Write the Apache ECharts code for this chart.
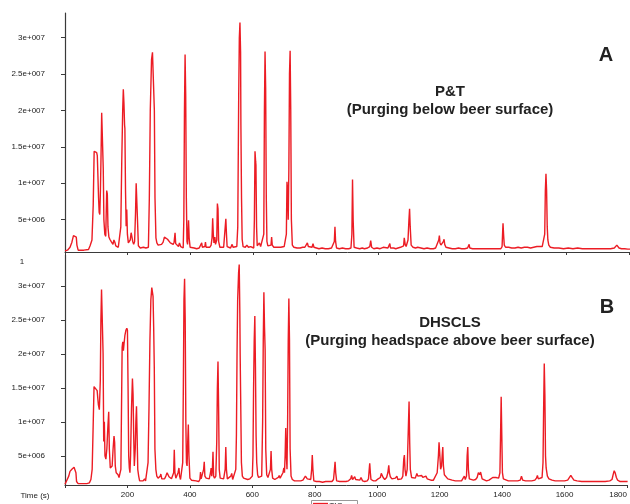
<!DOCTYPE html>
<html lang="en">
<head>
<meta charset="UTF-8">
<title>TIC chromatograms P&amp;T vs DHSCLS</title>
<style>
    html, body {margin: 0; padding: 0; background: #fff;}
    #chart {width: 630px; height: 504px;}
</style>
</head>
<body>
<div id="chart"></div>
<script src="https://cdn.jsdelivr.net/npm/echarts@6/dist/echarts.min.js"></script>
<script>
// time (s) and TIC abundance (in units of 1e6)
const traceA = [
    [0,0.7],[8,0.8],[16,1.2],[22,1.9],[27,2.8],[33,2.9],[36,2.6],[38,1.5],[42,0.8],[60,0.8],[75,0.9],[80,1.4],[86,2.2],
    [90,7],[93,14.4],[98,14.5],[101,14.2],[103,13.8],[105,11],[107,8],[109,6],[111,5.7],[113,9],[115,14],[117,19.7],[120,19.5],
    [122,12],[124,5],[127,3],[130,2.7],[133,9.0],[135,8.5],[137,4],[140,2.6],[143,2.3],[147,2.0],[150,1.8],[153,1.6],[156,2.2],
    [159,1.9],[162,1.4],[166,1.3],[170,1.2],[175,1.3],[178,4],[181,13],[184,20],[186,22.9],[188,21],[190,18],[191,17.5],[193,9],
    [195,4.1],[197,6.4],[199,3],[202,1.8],[205,1.7],[208,2.2],[211,3.2],[214,3.1],[216,2.0],[219,1.6],[222,2.0],[225,6],[227,10],
    [230,9.8],[232,4],[234,1.4],[240,1.1],[250,1.2],[258,1.1],[266,1.2],[269,8],[272,20],[276,27],[279,28.0],[282,28.0],[285,20],
    [287,8],[290,2.5],[293,1.8],[297,1.5],[302,1.4],[308,1.6],[313,1.9],[317,2.6],[322,2.5],[327,2.3],[331,2.2],[336,1.8],[341,1.7],
    [345,1.6],[348,1.9],[351,3.2],[353,1.7],[356,1.7],[359,1.5],[362,1.3],[365,1.8],[367,2.0],[369,1.3],[373,1.2],[377,1.1],[379,5],
    [381,20],[383,27.7],[385,22],[387,8],[389,2],[391,1.6],[394,4.9],[396,2.5],[399,1.2],[405,1.0],[412,1.1],[420,1.0],[428,1.1],
    [433,1.2],[436,1.8],[438,1.2],[443,1.1],[446,1.3],[448,1.9],[450,1.2],[456,1.1],[462,1.2],[466,1.5],[469,2.5],[471,5.2],[473,3],
    [475,1.8],[478,2.6],[480,1.6],[484,2.2],[486,7.2],[488,6.5],[490,2],[494,1.2],[500,1.1],[506,1.2],[510,1.3],[513,5.1],[515,3],
    [517,1.3],[523,1.2],[528,1.1],[533,1.6],[536,1.2],[542,1.1],[548,1.3],[551,4],[554,22],[556,30],[558,32.1],[560,28],[561,18],
    [563,8],[565,2.3],[568,1.3],[575,1.2],[580,1.5],[585,1.2],[592,1.3],[598,1.2],[602,1.1],[604,5],[606,14.4],[608,13],[609,12.5],
    [611,4],[613,1.4],[617,1.6],[620,1.8],[624,1.3],[630,1.2],[634,3],[636,20],[638,28.1],[640,23],[642,8],[644,2],[647,1.4],
    [652,1.3],[657,1.5],[659,2.6],[661,1.5],[666,1.2],[672,1.1],[678,1.2],[684,1.3],[688,1.2],[694,1.4],[699,1.3],[703,1.2],[706,3],
    [708,10.2],[710,9],[712,5],[714,12],[716,25],[718,28.2],[720,20],[722,5],[725,1.5],[730,1.2],[740,1.1],[750,1.1],[758,1.2],
    [765,1.2],[770,1.4],[773,1.8],[776,1.3],[782,1.2],[788,1.2],[791,1.7],[794,1.2],[800,1.1],[810,1.0],[820,1.1],[830,1.0],[840,1.0],
    [850,1.1],[856,1.2],[859,2],[861,4.0],[863,2],[866,1.1],[875,1.0],[885,1.1],[895,1.0],[905,1.0],[912,1.1],[915,3],[917,10.5],
    [919,5],[922,1.2],[930,1.1],[940,1.0],[948,1.1],[952,1.2],[955,1.0],[965,1.1],[972,1.3],[975,2.1],[978,1.2],[985,1.0],[995,1.1],
    [1005,1.0],[1010,1.1],[1015,1.2],[1020,1.0],[1030,1.1],[1034,1.3],[1036,1.7],[1038,1.1],[1048,1.1],[1055,1.0],[1062,1.1],
    [1070,1.2],[1076,1.1],[1080,1.4],[1082,2.5],[1085,1.6],[1088,1.3],[1094,2.2],[1097,5],[1099,6.5],[1101,4],[1104,1.5],[1110,1.2],
    [1118,1.1],[1125,1.2],[1135,1.1],[1145,1.0],[1155,1.1],[1165,1.0],[1175,1.0],[1182,1.1],[1188,1.3],[1192,2.2],[1194,2.8],
    [1196,1.8],[1199,1.5],[1203,1.4],[1207,2.0],[1209,2.3],[1211,1.6],[1215,1.2],[1225,1.1],[1235,1.0],[1245,1.0],[1255,1.1],
    [1265,1.0],[1275,1.0],[1284,1.1],[1287,1.3],[1289,1.6],[1291,1.1],[1300,1.0],[1310,1.0],[1320,1.0],[1326,1.1],[1330,1.0],
    [1340,1.0],[1350,1.0],[1360,1.0],[1370,1.0],[1380,1.0],[1390,1.0],[1394,1.3],[1396,3.5],[1397,4.5],[1399,2.8],[1401,1.5],
    [1405,1.2],[1415,1.2],[1425,1.1],[1435,1.1],[1445,1.2],[1455,1.1],[1465,1.2],[1475,1.2],[1485,1.1],[1495,1.2],[1505,1.3],
    [1515,1.3],[1522,1.3],[1527,1.5],[1530,3],[1532,9],[1534,11.3],[1536,9],[1538,4],[1540,2.2],[1543,1.5],[1548,1.2],[1560,1.1],
    [1575,1.1],[1590,1.0],[1605,1.1],[1620,1.0],[1635,1.1],[1650,1.0],[1665,1.0],[1680,1.0],[1695,1.0],[1710,1.0],[1725,1.0],
    [1740,1.0],[1752,1.1],[1757,1.3],[1760,1.5],[1763,1.4],[1767,1.1],[1775,1.0],[1785,1.0],[1795,0.95],[1802,0.95]
];

const traceB = [
    [0,0.8],[6,1.0],[12,2.0],[16,2.7],[22,3.0],[26,3.2],[29,3.3],[32,3.2],[35,2.5],[37,1.2],[42,0.9],[55,0.9],[70,0.9],[78,1.0],
    [83,1.5],[87,3],[90,9],[93,15.2],[96,15.4],[99,15.0],[103,14.6],[105,13.5],[107,12.5],[110,11.8],[113,16],[115,25],[117,29.5],
    [120,29.4],[122,20],[124,7.1],[126,10],[128,5],[131,4.5],[134,6],[137,9],[140,11.5],[142,6],[145,3.2],[148,3.0],[151,3.5],[154,6],
    [157,7.9],[159,7],[161,3.5],[164,2.5],[167,2.7],[170,2.2],[173,1.8],[176,1.6],[179,3],[181,12],[183,21],[185,21.8],[187,20.5],
    [189,21.5],[192,22.8],[195,23.5],[198,23.8],[200,23.5],[202,15],[204,5],[206,3.2],[208,2.5],[210,5],[213,12],[216,16.4],[218,14],
    [220,8],[222,3.5],[225,6],[227,10],[229,12.3],[231,8],[233,3],[236,2.0],[239,1.3],[245,1.2],[250,1.3],[255,1.6],[258,1.3],
    [263,1.4],[266,4],[269,12],[272,22],[275,28],[278,29.8],[280,29.6],[282,28.5],[284,24],[286,17.9],[288,6],[291,3.0],[294,2],
    [298,1.7],[302,1.6],[305,2.0],[307,2.3],[310,1.6],[314,1.5],[319,1.6],[323,2.0],[327,2.5],[330,2.5],[333,1.9],[337,1.7],[341,1.6],
    [345,1.7],[348,2.5],[350,5.9],[352,2.5],[355,1.7],[358,1.8],[362,2.5],[365,3.2],[367,2],[370,1.5],[374,1.7],[377,4],[379,15],
    [381,28],[383,31.1],[385,25],[387,10],[389,4],[391,3.5],[393,7],[395,9.6],[397,5],[400,1.7],[405,1.4],[410,1.2],[420,1.3],
    [428,1.2],[432,1.5],[434,2.6],[436,1.6],[441,1.7],[444,3],[446,4.1],[448,2],[452,1.7],[458,1.5],[462,1.6],[466,2.5],[468,3.2],
    [470,2.0],[472,3],[474,5.6],[476,2],[479,1.7],[483,2],[486,7],[488,15],[490,18.9],[492,12],[494,3],[497,1.7],[503,1.5],[508,1.6],
    [513,3],[515,6.3],[517,3],[520,1.6],[525,1.4],[531,2.0],[534,2.4],[537,1.5],[542,1.3],[547,3],[549,8],[551,20],[553,28],[556,32],
    [558,33.2],[560,26],[561,20],[563,12],[565,4],[568,2],[572,1.7],[578,1.6],[585,1.5],[592,1.6],[596,1.5],[600,2],[602,5],[604,15],
    [606,22],[608,25.6],[610,18],[612,8],[614,4],[617,2.2],[620,1.8],[625,1.6],[630,2],[633,10],[635,22],[637,29.1],[639,24],
    [641,20.6],[643,6],[646,2.2],[650,1.8],[655,2.0],[658,3],[660,5.7],[662,3],[665,1.7],[672,1.5],[678,1.6],[683,1.8],[686,2.1],
    [689,1.7],[694,1.9],[698,2.5],[701,3.2],[703,2.5],[705,5],[707,9.1],[709,5],[711,3],[713,10],[715,22],[717,28.2],[719,22],[721,6],
    [724,2],[728,1.5],[735,1.3],[745,1.3],[755,1.3],[762,1.4],[767,1.6],[770,2.0],[773,2.1],[776,1.6],[782,1.4],[787,1.5],[790,3],
    [792,5.1],[794,3],[797,1.3],[805,1.2],[815,1.2],[825,1.1],[835,1.2],[845,1.2],[855,1.2],[860,1.5],[863,3],[865,4.1],[867,2.5],
    [870,1.3],[880,1.2],[890,1.2],[900,1.2],[908,1.3],[915,1.6],[918,2.1],[921,1.5],[925,1.6],[928,1.9],[931,1.5],[936,1.3],[944,1.4],
    [948,1.8],[950,1.9],[953,1.3],[960,1.2],[968,1.3],[972,1.6],[974,2.8],[976,3.9],[978,2.5],[980,1.5],[988,1.3],[995,1.3],
    [1000,1.4],[1003,1.6],[1005,1.5],[1010,1.8],[1013,2.4],[1016,2.4],[1019,1.8],[1024,1.5],[1030,1.8],[1034,2.5],[1037,3.6],
    [1039,2.5],[1042,1.9],[1047,1.6],[1052,1.5],[1058,1.7],[1063,2.0],[1066,1.5],[1072,1.4],[1078,1.6],[1082,2],[1085,4.5],[1087,5.1],
    [1089,3],[1092,2],[1096,3],[1099,8],[1102,13.0],[1104,7],[1106,3],[1110,1.8],[1116,1.6],[1122,1.7],[1127,2.4],[1130,2.0],
    [1136,1.8],[1142,2.1],[1146,1.8],[1152,1.7],[1156,2.0],[1160,1.6],[1166,1.5],[1172,1.4],[1180,1.4],[1186,1.6],[1192,2.5],
    [1196,5],[1198,7.0],[1200,5.5],[1203,3],[1206,3.5],[1208,5],[1210,6.3],[1212,3.5],[1215,2.2],[1220,2.0],[1226,1.6],[1232,1.5],
    [1240,1.4],[1250,1.3],[1260,1.3],[1270,1.3],[1276,1.5],[1279,2.0],[1282,1.5],[1286,2],[1288,5],[1290,6.3],[1292,3],[1295,1.6],
    [1300,1.4],[1308,1.4],[1315,1.5],[1320,1.8],[1324,2.5],[1326,2.7],[1328,2.2],[1331,2.6],[1333,2.2],[1336,1.6],[1342,1.4],
    [1350,1.3],[1358,1.4],[1364,1.5],[1370,1.8],[1374,1.6],[1380,1.8],[1385,2.0],[1389,1.7],[1393,2.5],[1395,8],[1397,13.7],
    [1399,8],[1401,2.5],[1404,1.6],[1410,1.4],[1420,1.3],[1430,1.3],[1440,1.3],[1450,1.3],[1458,1.4],[1462,2.0],[1466,1.4],
    [1475,1.3],[1485,1.3],[1495,1.3],[1505,1.4],[1510,1.7],[1513,2.1],[1516,1.6],[1522,1.6],[1528,1.8],[1531,4],[1533,12],
    [1535,18.6],[1537,14],[1539,5],[1541,3.2],[1545,2.0],[1550,1.6],[1560,1.4],[1570,1.3],[1580,1.3],[1590,1.3],[1600,1.3],
    [1610,1.4],[1616,1.6],[1620,2.1],[1624,1.8],[1630,1.4],[1640,1.3],[1655,1.2],[1670,1.2],[1685,1.2],[1700,1.2],[1715,1.2],
    [1730,1.2],[1745,1.3],[1752,1.5],[1756,2.3],[1759,2.8],[1762,2.5],[1766,1.8],[1770,1.4],[1778,1.2],[1790,1.2],[1802,1.2]
];

const yTicks = [5, 10, 15, 20, 25, 30];
const xTicks = [0, 200, 400, 600, 800, 1000, 1200, 1400, 1600, 1800];
const xLabels = [200, 400, 600, 800, 1000, 1200, 1400, 1600, 1800];

const RED = '#ec1c24';
const AXIS = '#3a3a3a';
const FONT = '"Liberation Sans", Arial, sans-serif';

// 5 -> 5e+006, 15 -> 1.5e+007
function sciLabel(v) {
    return v >= 10 ? (v / 10) + 'e+007' : v + 'e+006';
}

const chart = echarts.init(document.getElementById('chart'), null, {renderer: 'canvas'});

function yAxisFor(idx, min, max) {
    return {
        type: 'value', gridIndex: idx, min: min, max: max,
        splitLine: {show: false},
        axisLine: {show: true, lineStyle: {color: AXIS, width: 1.2}},
        axisTick: {show: true, length: 4, customValues: yTicks, lineStyle: {color: AXIS}},
        axisLabel: {customValues: yTicks, formatter: sciLabel, margin: 20,
            color: '#222', fontSize: 8, fontFamily: FONT}
    };
}

function xAxisFor(idx, showLabels) {
    return {
        type: 'value', gridIndex: idx, min: 0, max: 1802,
        splitLine: {show: false},
        axisLine: {show: true, onZero: false, lineStyle: {color: AXIS, width: 1}},
        axisTick: {show: true, length: 3, customValues: xTicks, lineStyle: {color: AXIS}},
        axisLabel: {show: showLabels, customValues: xLabels, margin: 6, alignMaxLabel: 'right',
            formatter: v => String(v),
            color: '#222', fontSize: 8, fontFamily: FONT}
    };
}

const option = {
    animation: false,
    backgroundColor: '#fff',
    grid: [
        {left: 65, top: 13, right: 0, height: 239},
        {left: 65, top: 255, right: 0, height: 230}
    ],
    xAxis: [xAxisFor(0, false), xAxisFor(1, true)],
    yAxis: [yAxisFor(0, 0.55, 33.4), yAxisFor(1, 0.69, 34.6)],
    series: [
        {type: 'line', xAxisIndex: 0, yAxisIndex: 0, data: traceA, showSymbol: false,
            lineStyle: {color: RED, width: 1.4}},
        {type: 'line', xAxisIndex: 1, yAxisIndex: 1, data: traceB, showSymbol: false,
            lineStyle: {color: RED, width: 1.4}}
    ],
    graphic: [
        {type: 'text', x: 606, y: 55, style: {text: 'A', font: 'bold 20px ' + FONT, fill: '#222',
            align: 'center', verticalAlign: 'middle'}},
        {type: 'text', x: 450, y: 92, style: {text: 'P&T', font: 'bold 15px ' + FONT, fill: '#222',
            align: 'center', verticalAlign: 'middle'}},
        {type: 'text', x: 450, y: 110, style: {text: '(Purging below beer surface)', font: 'bold 15px ' + FONT,
            fill: '#222', align: 'center', verticalAlign: 'middle'}},
        {type: 'text', x: 607, y: 307, style: {text: 'B', font: 'bold 20px ' + FONT, fill: '#222',
            align: 'center', verticalAlign: 'middle'}},
        {type: 'text', x: 450, y: 323, style: {text: 'DHSCLS', font: 'bold 15px ' + FONT, fill: '#222',
            align: 'center', verticalAlign: 'middle'}},
        {type: 'text', x: 450, y: 341, style: {text: '(Purging headspace above beer surface)', font: 'bold 15px ' + FONT,
            fill: '#222', align: 'center', verticalAlign: 'middle'}},
        {type: 'text', x: 22, y: 262, style: {text: '1', font: '8px ' + FONT, fill: '#222',
            align: 'center', verticalAlign: 'middle'}},
        {type: 'text', x: 35, y: 496, style: {text: 'Time (s)', font: '8px ' + FONT, fill: '#222',
            align: 'center', verticalAlign: 'middle'}},
        // legend box, cut off at the bottom edge
        {type: 'rect', shape: {x: 311.5, y: 500.5, width: 46, height: 14}, style: {fill: '#fff', stroke: '#999', lineWidth: 1}},
        {type: 'line', shape: {x1: 313, y1: 503.5, x2: 328, y2: 503.5}, style: {stroke: RED, lineWidth: 1.3}},
        {type: 'text', x: 336, y: 506, style: {text: 'TIC', font: '8px ' + FONT, fill: '#222',
            align: 'center', verticalAlign: 'middle'}}
    ]
};

chart.setOption(option);
</script>
</body>
</html>
